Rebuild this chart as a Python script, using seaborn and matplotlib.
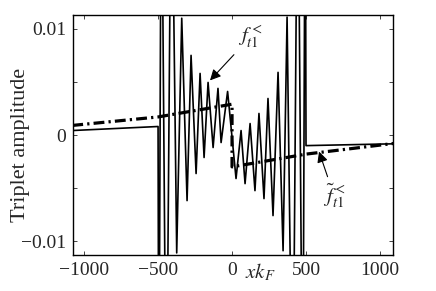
import numpy as np
import pandas as pd
import matplotlib
matplotlib.use("Agg")
import matplotlib.pyplot as plt
import seaborn as sns
from matplotlib.ticker import FixedLocator, FixedFormatter

# curva solida (vertices, extremos fora do eixo = +-0.03)
solid_x = [-1080, -500, -495, -478, -444, -410, -374, -340, -304, -277, -243, -216,
           -189, -162, -128, -95, -74, -30, 27, 61, 88, 122, 155, 182, 216, 243,
           277, 311, 345, 372, 410, 444, 478, 495, 500, 1090]
solid_y = [0.00042, 0.0008, -0.03, 0.03, -0.03, 0.03, -0.0111, 0.0110, -0.00618, 0.0075,
           -0.00363, 0.0058, -0.00212, 0.00495, -0.00118, 0.00439, -0.00071, 0.0041,
           -0.0041, 0.00042, -0.00458, 0.00108, -0.00524, 0.00203, -0.00599, 0.00344,
           -0.00759, 0.0059, -0.0109, 0.0111, -0.03, 0.03, -0.03, 0.03, -0.001, -0.00083]

# curva tracejada (media)
mean_x = [-1080, -500, 0, 0, 500, 1090]
mean_y = [0.0009, 0.0017, 0.0029, -0.0030, -0.0018, -0.0008]

xticks = [-1000, -500, 0, 500, 1000]
xtick_labels = ["\u22121000", "\u2212500", "0", "500", "1000"]
yticks = [-0.01, 0, 0.01]
ytick_labels = ["\u22120.01", "0", "0.01"]
yminor = [-0.005, 0.005]

sns.set_style("ticks")
plt.rcParams["font.family"] = ["Liberation Serif", "DejaVu Serif"]
plt.rcParams["mathtext.fontset"] = "stix"

df_solid = pd.DataFrame({"x": solid_x, "y": solid_y})
df_mean = pd.DataFrame({"x": mean_x, "y": mean_y})

fig = plt.figure(figsize=(4.36, 2.91), dpi=100)
ax = fig.add_axes([73 / 436, 36 / 291, 320 / 436, 240 / 291])

sns.lineplot(data=df_solid, x="x", y="y", estimator=None, sort=False,
             color="black", lw=1.2, ax=ax)
sns.lineplot(data=df_mean, x="x", y="y", estimator=None, sort=False,
             color="black", lw=2.3, ax=ax)
ax.lines[-1].set_linestyle((0, (3.4, 1.3, 0.7, 1.3)))

ax.set_xlim(-1075, 1088)
ax.set_ylim(-0.0113, 0.0113)

ax.xaxis.set_major_locator(FixedLocator(xticks))
ax.xaxis.set_major_formatter(FixedFormatter(xtick_labels))
ax.yaxis.set_major_locator(FixedLocator(yticks))
ax.yaxis.set_major_formatter(FixedFormatter(ytick_labels))
ax.yaxis.set_minor_locator(FixedLocator(yminor))
ax.tick_params(which="both", direction="in", top=True, right=True,
               length=3, width=0.6, labelsize=14, pad=5)

for s in ax.spines.values():
    s.set_linewidth(1.0)
    s.set_color("black")

ax.set_xlabel("$xk_F$", fontsize=15)
ax.xaxis.label.set_va("baseline")
ax.xaxis.set_label_coords(0.584, -0.096)
ax.set_ylabel("Triplet amplitude", fontsize=16)
ax.yaxis.label.set_va("center")
ax.yaxis.set_label_coords(-0.165, 0.46)

arrow = dict(arrowstyle="-|>", color="black", lw=0.8, mutation_scale=16,
             shrinkA=1, shrinkB=0)
ax.annotate("$f_{t1}^{<}$", xy=(-149, 0.00514), xytext=(122, 0.0092),
            ha="center", va="center", fontsize=15, arrowprops=arrow)
ax.annotate("$\\tilde{f}_{t1}^{<}$", xy=(588, -0.00156), xytext=(689, -0.0057),
            ha="center", va="center", fontsize=15, arrowprops=arrow)

fig.savefig("out.png", dpi=100)
